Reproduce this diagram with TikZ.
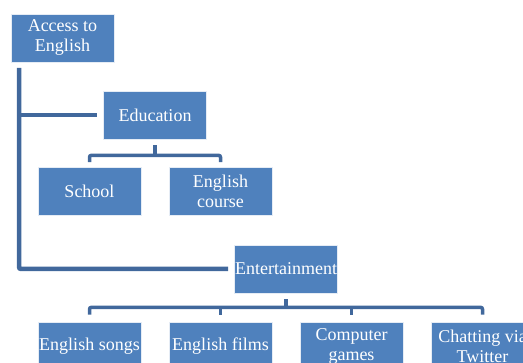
\documentclass[tikz,border=0pt]{standalone}
\usepackage{fontspec}
\setmainfont{Liberation Serif}
\definecolor{boxblue}{HTML}{4F81BD}
\definecolor{lineblue}{HTML}{41689C}
\tikzset{
  item/.style={draw=white!85!boxblue, line width=0.6pt, fill=boxblue, text=white,
    minimum width=103pt, minimum height=48pt, inner sep=0pt, align=center,
    font=\fontsize{18}{20}\selectfont},
  conn/.style={draw=lineblue, line width=4.5pt, rounded corners=2pt},
  link/.style={draw=lineblue, line width=3.5pt, rounded corners=2pt}
}
\begin{document}
\begin{tikzpicture}[x=1pt,y=-1pt]
  \useasboundingbox (0,0) rectangle (523,363);
  \clip (0,0) rectangle (523,363);

  \node[item] (access) at (62.5,38) {Access to\\English};
  \node[item] (education) at (155,115) {Education};
  \node[item] (school) at (89.5,191.5) {School};
  \node[item] (course) at (220.5,191.5) {English\\course};
  \node[item] (entertain) at (286,269) {Entertainment};

  \foreach \name/\x/\txt in {songs/89.5/English songs, films/220.5/English films,
      games/351.5/Computer\\games, twitter/482.5/Chatting via\\Twitter}
    \node[item] (\name) at (\x,346) {\txt};

  % trunk from the top box
  \coordinate (trunk) at (19,68);
  \draw[conn] (trunk) |- ([xshift=-6pt]entertain.west);
  \draw[conn, rounded corners=0pt] (trunk |- education) -- ([xshift=-6pt]education.west);

  % education branch
  \coordinate (eduBar) at ([yshift=-16pt]education.south);
  \draw[link, rounded corners=0pt] ([yshift=-6pt]education.south) -- (eduBar);
  \draw[link] ([yshift=5pt]school.north) |- (eduBar) -| ([yshift=5pt]course.north);

  % entertainment branch
  \coordinate (entBar) at ([yshift=-14pt]entertain.south);
  \draw[link, rounded corners=0pt] ([yshift=-6pt]entertain.south) -- (entBar);
  \draw[link] ([yshift=7pt]songs.north) |- (entBar) -| ([yshift=7pt]twitter.north);
  \foreach \name in {films,games}
    \draw[link, rounded corners=0pt] ([yshift=7pt]\name.north) -- (\name.north |- entBar);
\end{tikzpicture}
\end{document}
